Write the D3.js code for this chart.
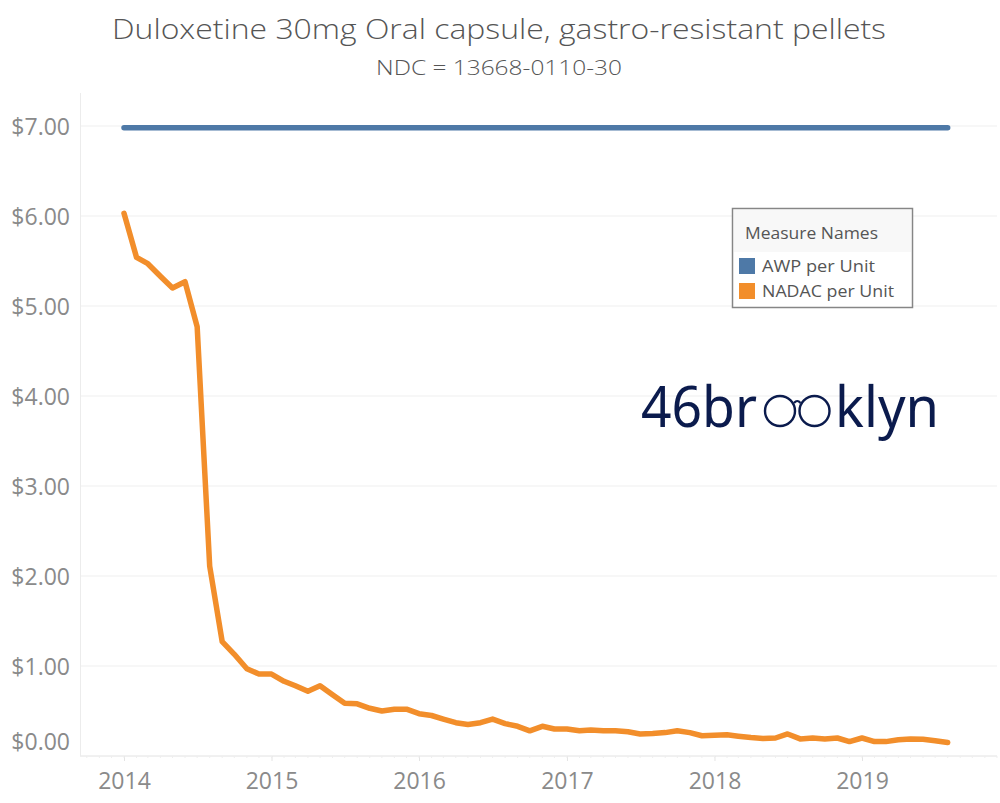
<!DOCTYPE html>
<html>
<head>
<meta charset="utf-8">
<script src="https://cdn.jsdelivr.net/npm/d3@7"></script>
<style>
  html, body { margin: 0; padding: 0; background: #fff; }
  svg { display: block; }
</style>
</head>
<body>
<svg id="chart" width="1000" height="803"></svg>
<script>
// ---------------- DATA ----------------
const titleText = "Duloxetine 30mg Oral capsule, gastro-resistant pellets";
const subtitleText = "NDC = 13668-0110-30";

const months = [
  "2014-01","2014-02","2014-03","2014-04","2014-05","2014-06","2014-07","2014-08","2014-09","2014-10","2014-11","2014-12",
  "2015-01","2015-02","2015-03","2015-04","2015-05","2015-06","2015-07","2015-08","2015-09","2015-10","2015-11","2015-12",
  "2016-01","2016-02","2016-03","2016-04","2016-05","2016-06","2016-07","2016-08","2016-09","2016-10","2016-11","2016-12",
  "2017-01","2017-02","2017-03","2017-04","2017-05","2017-06","2017-07","2017-08","2017-09","2017-10","2017-11","2017-12",
  "2018-01","2018-02","2018-03","2018-04","2018-05","2018-06","2018-07","2018-08","2018-09","2018-10","2018-11","2018-12",
  "2019-01","2019-02","2019-03","2019-04","2019-05","2019-06","2019-07","2019-08"
];

const awpPerUnit = [
  6.98,6.98,6.98,6.98,6.98,6.98,6.98,6.98,6.98,6.98,6.98,6.98,
  6.98,6.98,6.98,6.98,6.98,6.98,6.98,6.98,6.98,6.98,6.98,6.98,
  6.98,6.98,6.98,6.98,6.98,6.98,6.98,6.98,6.98,6.98,6.98,6.98,
  6.98,6.98,6.98,6.98,6.98,6.98,6.98,6.98,6.98,6.98,6.98,6.98,
  6.98,6.98,6.98,6.98,6.98,6.98,6.98,6.98,6.98,6.98,6.98,6.98,
  6.98,6.98,6.98,6.98,6.98,6.98,6.98,6.98
];

const nadacPerUnit = [
  6.03,5.54,5.47,5.33,5.20,5.27,4.77,2.11,1.27,1.13,0.97,0.91,
  0.91,0.83,0.78,0.72,0.78,0.68,0.585,0.58,0.53,0.50,0.52,0.52,
  0.47,0.45,0.41,0.37,0.35,0.37,0.41,0.36,0.33,0.28,0.33,0.30,
  0.30,0.28,0.29,0.28,0.28,0.27,0.245,0.25,0.26,0.28,0.26,0.225,
  0.23,0.235,0.22,0.205,0.195,0.20,0.245,0.19,0.20,0.19,0.20,0.16,
  0.20,0.16,0.16,0.18,0.19,0.185,0.17,0.15
];

const seriesNames = ["AWP per Unit", "NADAC per Unit"];
const seriesColors = ["#4e79a7", "#f28e2b"];
const legendTitle = "Measure Names";

const yTickValues = [0, 1, 2, 3, 4, 5, 6, 7];
const xTickYears = ["2014", "2015", "2016", "2017", "2018", "2019"];

// ---------------- CHART ----------------
const svg = d3.select("#chart");
const parseMonth = d3.timeParse("%Y-%m");
const parseYear = d3.timeParse("%Y");

const plot = { left: 80, right: 997, top: 93, bottom: 756 };

const x = d3.scaleTime()
  .domain([parseYear("2014"), parseYear("2019")])
  .range([124, 862]);

const y = d3.scaleLinear()
  .domain([0, 7])
  .range([756, 126]);

const labelFont = "'Open Sans', 'DejaVu Sans', sans-serif";

// Title
svg.append("text")
  .attr("x", 499).attr("y", 39)
  .attr("text-anchor", "middle")
  .attr("font-family", labelFont)
  .attr("font-weight", 300)
  .attr("font-size", 28)
  .attr("fill", "#555")
  .attr("textLength", 774)
  .attr("lengthAdjust", "spacingAndGlyphs")
  .text(titleText);

svg.append("text")
  .attr("x", 499).attr("y", 75)
  .attr("text-anchor", "middle")
  .attr("font-family", labelFont)
  .attr("font-weight", 300)
  .attr("font-size", 21)
  .attr("fill", "#555")
  .attr("textLength", 246)
  .attr("lengthAdjust", "spacingAndGlyphs")
  .text(subtitleText);

// Gridlines
svg.append("g")
  .selectAll("line")
  .data(yTickValues)
  .join("line")
  .attr("x1", plot.left).attr("x2", plot.right)
  .attr("y1", d => y(d)).attr("y2", d => y(d))
  .attr("stroke", d => d === 0 ? "#e2e2e2" : "#efefef")
  .attr("stroke-width", 1);

// Left axis line
svg.append("line")
  .attr("x1", plot.left + 0.5).attr("x2", plot.left + 0.5)
  .attr("y1", plot.top).attr("y2", plot.bottom)
  .attr("stroke", "#ececec");

// Y axis labels
const yAxis = d3.axisLeft(y)
  .tickValues(yTickValues)
  .tickFormat(d3.format("$.2f"))
  .tickSize(0)
  .tickPadding(0);
const yg = svg.append("g").attr("transform", "translate(70,0)").call(yAxis);
yg.select(".domain").remove();
yg.selectAll("text")
  .attr("font-family", labelFont)
  .attr("font-size", 23)
  .attr("fill", "#8a8a8a")
  .attr("dy", "0.35em")
  .attr("y", d => d === 0 ? -15 : 0);

// X axis
const xAxis = d3.axisBottom(x)
  .tickValues(xTickYears.map(parseYear))
  .tickFormat(d3.timeFormat("%Y"))
  .tickSize(5)
  .tickPadding(12);
const xg = svg.append("g").attr("transform", `translate(0,${plot.bottom})`).call(xAxis);
xg.select(".domain").remove();
xg.selectAll("line").attr("stroke", "#e4e4e4");
xg.selectAll("text")
  .attr("font-family", labelFont)
  .attr("font-size", 23)
  .attr("fill", "#8a8a8a")
  .attr("dy", "0.71em");

// Minor month ticks on baseline
svg.append("g")
  .selectAll("line")
  .data(d3.timeMonth.range(parseYear("2013"), parseYear("2021")).filter(d => x(d) > plot.left && x(d) < plot.right))
  .join("line")
  .attr("x1", d => x(d)).attr("x2", d => x(d))
  .attr("y1", plot.bottom).attr("y2", plot.bottom + 2)
  .attr("stroke", "#eeeeee");

// Lines
const series = [awpPerUnit, nadacPerUnit];
const line = d3.line()
  .x((d, i) => x(parseMonth(months[i])))
  .y(d => y(d));

svg.append("g")
  .selectAll("path")
  .data(series)
  .join("path")
  .attr("d", d => line(d))
  .attr("fill", "none")
  .attr("stroke", (d, i) => seriesColors[i])
  .attr("stroke-width", 5.5)
  .attr("stroke-linecap", "round")
  .attr("stroke-linejoin", "round");

// Legend
const lg = svg.append("g");
lg.append("rect")
  .attr("x", 732.5).attr("y", 208.5)
  .attr("width", 180).attr("height", 99)
  .attr("fill", "#fff")
  .attr("stroke", "#868686")
  .attr("stroke-width", 1.5);
lg.append("rect")
  .attr("x", 734).attr("y", 210)
  .attr("width", 177).attr("height", 42)
  .attr("fill", "#f8f8f8");
lg.append("text")
  .attr("x", 745).attr("y", 239)
  .attr("font-family", labelFont)
  .attr("font-size", 17)
  .attr("fill", "#555")
  .attr("textLength", 133)
  .attr("lengthAdjust", "spacingAndGlyphs")
  .text(legendTitle);
const legendTextLen = [113, 132];
seriesNames.forEach((name, i) => {
  lg.append("rect")
    .attr("x", 739).attr("y", 258 + i * 25)
    .attr("width", 16).attr("height", 16)
    .attr("fill", seriesColors[i]);
  lg.append("text")
    .attr("x", 762).attr("y", 266 + i * 25)
    .attr("dy", "0.35em")
    .attr("font-family", labelFont)
    .attr("font-size", 17)
    .attr("fill", "#555")
    .attr("textLength", legendTextLen[i])
    .attr("lengthAdjust", "spacingAndGlyphs")
    .text(name);
});

// Logo "46brooklyn"
const logoColor = "#0b1b4d";
const logo = svg.append("g");
logo.append("text")
  .attr("x", 641).attr("y", 427)
  .attr("font-family", "'Noto Sans', 'Open Sans', sans-serif")
  .attr("font-weight", 400)
  .attr("font-size", 56)
  .attr("fill", logoColor)
  .attr("textLength", 116)
  .attr("lengthAdjust", "spacingAndGlyphs")
  .text("46br");
logo.append("text")
  .attr("x", 835).attr("y", 427)
  .attr("font-family", "'Noto Sans', 'Open Sans', sans-serif")
  .attr("font-weight", 400)
  .attr("font-size", 56)
  .attr("fill", logoColor)
  .attr("textLength", 104)
  .attr("lengthAdjust", "spacingAndGlyphs")
  .text("klyn");
[780, 814.5].forEach(cx => {
  logo.append("circle")
    .attr("cx", cx).attr("cy", 411).attr("r", 15)
    .attr("fill", "none")
    .attr("stroke", logoColor)
    .attr("stroke-width", 2.4);
});
logo.append("path")
  .attr("d", "M794,403 Q797.3,399 800.5,403")
  .attr("fill", "none")
  .attr("stroke", logoColor)
  .attr("stroke-width", 2.2);
</script>
</body>
</html>
